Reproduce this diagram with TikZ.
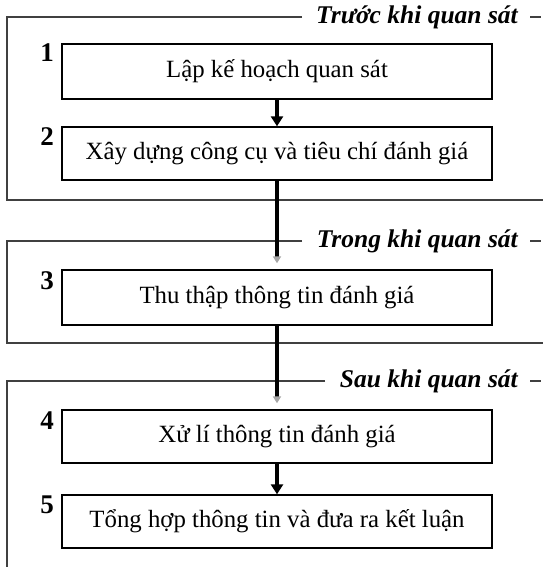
\documentclass[tikz,border=0pt]{standalone}
\usepackage{fontspec}
\setmainfont{Liberation Serif}
\usetikzlibrary{arrows.meta}
\begin{document}
\begin{tikzpicture}[x=1pt,y=-1pt,
  stepbox/.style={draw=black,line width=1.4pt,minimum width=430pt,minimum height=54pt,inner sep=0pt,font=\fontsize{24.8}{28}\selectfont},
  numlab/.style={anchor=base east,font=\fontsize{27}{30}\selectfont\bfseries,inner sep=0pt},
  grouplab/.style={anchor=east,font=\fontsize{25.5}{28}\selectfont\bfseries\itshape,inner sep=0pt},
  frame/.style={draw=black!75,line width=1.1pt},
  arr/.style={line width=3.2pt,-{Triangle[length=10pt,width=12pt]}},
  bigarr/.style={line width=3.8pt,-{Triangle[length=7pt,width=8pt,color=black!35]},shorten >=6pt}]
\useasboundingbox (0,0) rectangle (543,567);
% group frames
\node[grouplab] (g1) at (518,17) {Trước khi quan sát};
\node[grouplab] (g2) at (518,241) {Trong khi quan sát};
\node[grouplab] (g3) at (518,381) {Sau khi quan sát};
\draw[frame] (302,17) -- (7,17) -- (7,200) -- (543,200);
\draw[frame] (530,17) -- (541,17);
\draw[frame] (302,241) -- (7,241) -- (7,343) -- (543,343);
\draw[frame] (530,241) -- (541,241);
\draw[frame] (325,381) -- (7,381) -- (7,567);
\draw[frame] (530,381) -- (541,381);
% boxes
\node[stepbox,minimum height=55pt] (b1) at (277,71.5) {Lập kế hoạch quan sát};
\node[stepbox,minimum height=53pt] (b2) at (277,153.5) {Xây dựng công cụ và tiêu chí đánh giá};
\node[stepbox,minimum height=55pt] (b3) at (277,297.5) {Thu thập thông tin đánh giá};
\node[stepbox,minimum height=53pt] (b4) at (277,436.5) {Xử lí thông tin đánh giá};
\node[stepbox,minimum height=53pt] (b5) at (277,521.5) {Tổng hợp thông tin và đưa ra kết luận};
% numbers
\node[numlab] (n1) at (54,62) {1};
\node[numlab] (n2) at (54,146) {2};
\node[numlab] (n3) at (54,289) {3};
\node[numlab] (n4) at (54,429) {4};
\node[numlab] (n5) at (54,513) {5};
% arrows
\draw[arr] (b1) -- (b2);
\draw[bigarr] (b2) -- (b3);
\draw[bigarr] (b3) -- (b4);
\draw[arr] (b4) -- (b5);
\end{tikzpicture}
\end{document}
